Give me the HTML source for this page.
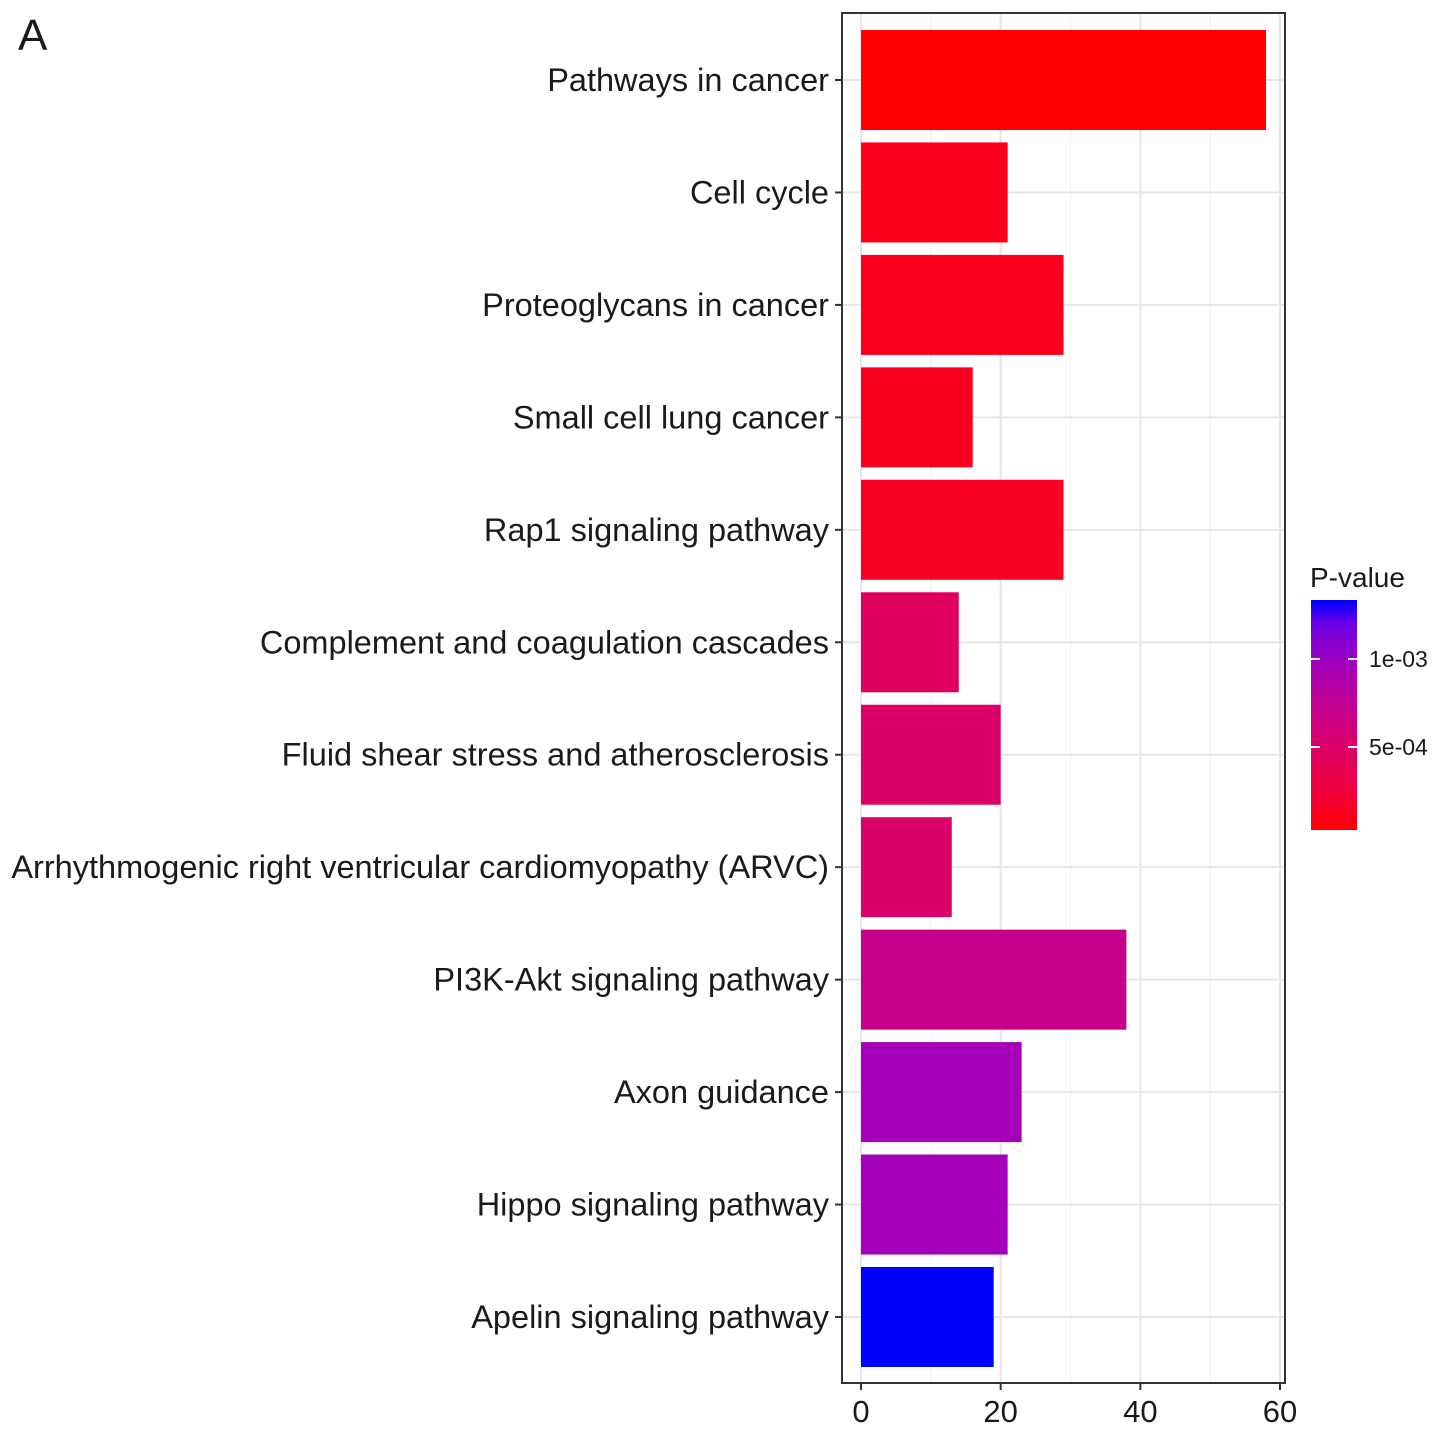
<!DOCTYPE html>
<html><head><meta charset="utf-8"><style>
body{margin:0;background:#fff;}
svg text{font-family:"Liberation Sans",Arial,sans-serif;fill:#1a1a1a;}
</style></head><body>
<svg id="chart" width="1441" height="1435" xmlns="http://www.w3.org/2000/svg">
<defs><linearGradient id="grad" x1="0" y1="1" x2="0" y2="0"></linearGradient></defs>
<text x="18" y="50" font-size="44">A</text>
<g id="plot"></g>
</svg>
<script>
const categories=["Pathways in cancer","Cell cycle","Proteoglycans in cancer","Small cell lung cancer","Rap1 signaling pathway","Complement and coagulation cascades","Fluid shear stress and atherosclerosis","Arrhythmogenic right ventricular cardiomyopathy (ARVC)","PI3K-Akt signaling pathway","Axon guidance","Hippo signaling pathway","Apelin signaling pathway"];
const counts=[58,21,29,16,29,14,20,13,38,23,21,19];
const pvalues=[0.00003,0.00009,0.0001,0.00012,0.00013,0.00045,0.0005,0.0005,0.0007,0.00095,0.00095,0.00133];
const xTicks=[0,20,40,60];
const xMinor=[10,30,50];
const legendTicks=[0.0005,0.001];
const legendLabels=["5e-04","1e-03"];

const NS="http://www.w3.org/2000/svg";
const g=document.getElementById('plot');
function el(t,a,p){const e=document.createElementNS(NS,t);for(const k in a)e.setAttribute(k,a[k]);(p||g).appendChild(e);return e;}
const PL=842,PR=1285,PT=13,PB=1383;
const x=v=>861+v*(1280-861)/60;
const step=(1317-80)/(categories.length-1);
const y=i=>80+step*i;
const barH=100;
function toLab(r,g,b){const f=c=>{c/=255;return c>0.04045?Math.pow((c+0.055)/1.055,2.4):c/12.92};r=f(r);g=f(g);b=f(b);
let X=(r*0.4124+g*0.3576+b*0.1805)/0.95047,Y=r*0.2126+g*0.7152+b*0.0722,Z=(r*0.0193+g*0.1192+b*0.9505)/1.08883;
const h=t=>t>0.008856?Math.cbrt(t):7.787*t+16/116;X=h(X);Y=h(Y);Z=h(Z);return[116*Y-16,500*(X-Y),200*(Y-Z)];}
function fromLab(L,a,bb){let Y=(L+16)/116,X=a/500+Y,Z=Y-bb/200;const h=t=>t**3>0.008856?t**3:(t-16/116)/7.787;
X=h(X)*0.95047;Y=h(Y);Z=h(Z)*1.08883;let r=X*3.2406+Y*-1.5372+Z*-0.4986,g2=X*-0.9689+Y*1.8758+Z*0.0415,b=X*0.0557+Y*-0.2040+Z*1.0570;
const f=c=>{c=c>0.0031308?1.055*Math.pow(c,1/2.4)-0.055:12.92*c;return Math.round(Math.max(0,Math.min(1,c))*255)};return `rgb(${f(r)},${f(g2)},${f(b)})`;}
const lo=toLab(255,0,0),hi=toLab(0,0,255);
const pMin=Math.min(...pvalues),pMax=Math.max(...pvalues);
const col=p=>{const t=(p-pMin)/(pMax-pMin);return fromLab(lo[0]+(hi[0]-lo[0])*t,lo[1]+(hi[1]-lo[1])*t,lo[2]+(hi[2]-lo[2])*t);};
const bg=el('rect',{x:PL,y:PT,width:PR-PL,height:PB-PT,fill:'#fff'});


xMinor.forEach(v=>el('line',{x1:x(v),x2:x(v),y1:PT,y2:PB,stroke:'#f0f0f0','stroke-width':1}));
xTicks.forEach(v=>el('line',{x1:x(v),x2:x(v),y1:PT,y2:PB,stroke:'#e6e6e6','stroke-width':2}));
categories.forEach((c,i)=>el('line',{x1:PL,x2:PR,y1:y(i),y2:y(i),stroke:'#e6e6e6','stroke-width':2}));
categories.forEach((c,i)=>{
 const r=el('rect',{x:x(0),y:y(i)-barH/2,width:x(counts[i])-x(0),height:barH,fill:col(pvalues[i])});
 
 
 el('line',{x1:PL-7,x2:PL,y1:y(i),y2:y(i),stroke:'#333','stroke-width':2});
 const t=el('text',{x:PL-13,y:y(i)+11,'font-size':32.5,'text-anchor':'end'});t.textContent=c;
 
 
});
el('rect',{x:PL,y:PT,width:PR-PL,height:PB-PT,fill:'none',stroke:'#333','stroke-width':2});
xTicks.forEach(v=>{el('line',{x1:x(v),x2:x(v),y1:PB,y2:PB+7,stroke:'#333','stroke-width':2});
 const t=el('text',{x:x(v),y:PB+39,'font-size':31,'text-anchor':'middle'});t.textContent=v;
 
 });
const LT=600,LB=830,lx=1311,lw=46;
const ly=p=>835-(p/0.0005)*88;
const grad=document.getElementById('grad');
for(let k=0;k<=10;k++){const p=pMin+(pMax-pMin)*k/10;const s=document.createElementNS(NS,'stop');s.setAttribute('offset',k/10);s.setAttribute('stop-color',col(p));grad.appendChild(s);}
const lt=el('text',{x:1310,y:587,'font-size':28});lt.textContent='P-value';


const cb=el('rect',{x:lx,y:LT,width:lw,height:LB-LT,fill:'url(#grad)'});


legendTicks.forEach((p,k)=>{
 el('line',{x1:lx,x2:lx+9,y1:ly(p),y2:ly(p),stroke:'#fff','stroke-width':2});
 el('line',{x1:lx+lw-9,x2:lx+lw,y1:ly(p),y2:ly(p),stroke:'#fff','stroke-width':2});
 const t=el('text',{x:1369,y:ly(p)+8,'font-size':23});t.textContent=legendLabels[k];
 
 
});
</script>
</body></html>
